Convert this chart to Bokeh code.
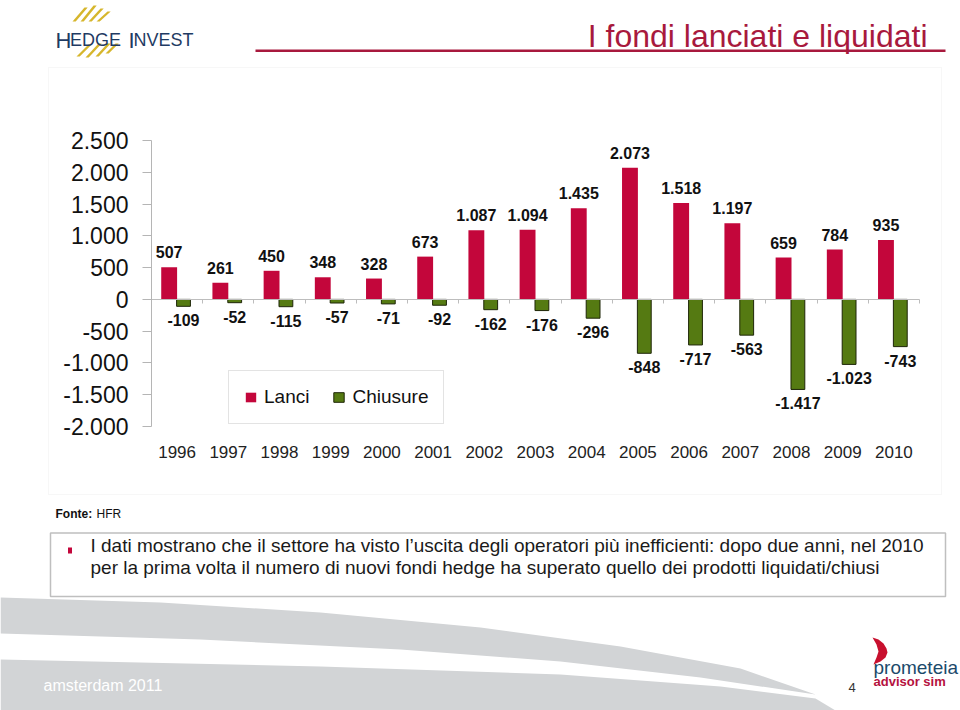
from bokeh.plotting import figure
from bokeh.models import (ColumnDataSource, Range1d, FixedTicker, LinearAxis,
                          CustomJSTickFormatter, Legend, LegendItem, Label,
                          BoxAnnotation, PolyAnnotation)
from bokeh.transform import dodge
from bokeh.embed import file_html
from bokeh.resources import INLINE
from bokeh.core.properties import value

# ---------------- data ----------------
years = [1996, 1997, 1998, 1999, 2000, 2001, 2002, 2003,
         2004, 2005, 2006, 2007, 2008, 2009, 2010]
lanci = [507, 261, 450, 348, 328, 673, 1087, 1094, 1435, 2073, 1518, 1197, 659, 784, 935]
chiusure = [-109, -52, -115, -57, -71, -92, -162, -176, -296, -848, -717, -563, -1417, -1023, -743]
y_ticks = [-2000, -1500, -1000, -500, 0, 500, 1000, 1500, 2000, 2500]
series_names = ["Lanci", "Chiusure"]

title_text = "I fondi lanciati e liquidati"
source_note = "HFR"
bullet_lines = [
    "I dati mostrano che il settore ha visto l\u2019uscita degli operatori pi\u00f9 inefficienti: dopo due anni, nel 2010",
    "per la prima volta il numero di nuovi fondi hedge ha superato quello dei prodotti liquidati/chiusi",
]


def it_fmt(v):
    return f"{v:,}".replace(",", ".")


RED = "#C3063B"
GREEN = "#557A12"
TITLE_RED = "#A8193D"
FONT = "Liberation Sans"

W, H = 960, 710
# chart plot area in page pixels
PX_L, PX_R, PX_T, PX_B = 151, 919, 140, 426
X_LO, X_HI = years[0] - 0.5, years[-1] + 0.5
Y_LO, Y_HI = y_ticks[0], y_ticks[-1]

xu = (X_HI - X_LO) / (PX_R - PX_L)      # years per pixel
yu = (Y_HI - Y_LO) / (PX_B - PX_T)      # values per pixel
yr_range = Range1d(X_LO - PX_L * xu, X_HI + (W - PX_R) * xu)
val_range = Range1d(Y_LO - (H - PX_B) * yu, Y_HI + PX_T * yu)

src = ColumnDataSource(dict(
    year=years, lanci=lanci, chiusure=chiusure,
    lanci_lbl=[it_fmt(v) for v in lanci],
    chiusure_lbl=[it_fmt(v) for v in chiusure],
))

p = figure(width=W, height=H, x_range=Range1d(0, W), y_range=Range1d(0, H),
           x_axis_location=None, y_axis_location=None,
           output_backend="svg", toolbar_location=None,
           min_border=0, min_border_left=0, min_border_right=0,
           min_border_top=0, min_border_bottom=0)
p.extra_x_ranges = {"yr": yr_range}
p.extra_y_ranges = {"val": val_range}
p.outline_line_color = None
p.background_fill_color = "white"
p.border_fill_color = "white"
p.xgrid.visible = False
p.ygrid.visible = False


def sx(X):
    return X


def sy(Y):
    return H - Y


def box(X0, Y0, X1, Y1, **kw):
    return BoxAnnotation(left=sx(X0), right=sx(X1), top=sy(Y0), bottom=sy(Y1),
                         left_units="screen", right_units="screen",
                         top_units="screen", bottom_units="screen", **kw)


def poly(pts, **kw):
    return PolyAnnotation(xs=[sx(a) for a, b in pts], ys=[sy(b) for a, b in pts],
                          xs_units="screen", ys_units="screen", line_color=None,
                          fill_alpha=1, **kw)


def label(X, Y, text, **kw):
    kw.setdefault("text_font", FONT)
    return Label(x=sx(X), y=sy(Y), x_units="screen", y_units="screen", text=text, **kw)


# ---------------- slide decorations (behind) ----------------
SWOOSH = "#D2D4D6"
upper = [(0, 597), (160, 602), (320, 612), (480, 627), (620, 646), (740, 668), (815, 694),
         (700, 677), (560, 661), (400, 649), (200, 639), (0, 633)]
lower = [(0, 659), (320, 666), (560, 674), (720, 686), (815, 698), (835, 710), (0, 710)]
p.add_layout(poly(upper, fill_color=SWOOSH, level="underlay"))
p.add_layout(poly(lower, fill_color=SWOOSH, level="underlay"))

# chart box
p.add_layout(box(48, 67, 941, 494, fill_alpha=0, line_color="#E3E3E3", line_width=1,
                 level="underlay"))

# ---------------- chart ----------------
r_red = p.vbar(x=dodge("year", -0.155), top="lanci", bottom=0, width=0.31,
               source=src, fill_color=RED, line_color=None,
               x_range_name="yr", y_range_name="val")
r_green = p.vbar(x=dodge("year", 0.125), top=0, bottom="chiusure", width=0.27,
                 source=src, fill_color=GREEN, line_color="#1E2608", line_width=1,
                 x_range_name="yr", y_range_name="val")

p.text(x=dodge("year", -0.155), y="lanci", text="lanci_lbl", source=src,
       text_align="center", text_baseline="bottom", y_offset=-9,
       text_font=value(FONT), text_font_style="bold", text_font_size="16px",
       text_color="#111111", x_range_name="yr", y_range_name="val")
p.text(x=dodge("year", 0.125), y="chiusure", text="chiusure_lbl", source=src,
       text_align="center", text_baseline="top", y_offset=8,
       text_font=value(FONT), text_font_style="bold", text_font_size="16px",
       text_color="#111111", x_range_name="yr", y_range_name="val")

# value axis
yax = LinearAxis(x_range_name="yr", y_range_name="val", fixed_location=X_LO,
                 bounds=(Y_LO, Y_HI), ticker=FixedTicker(ticks=y_ticks),
                 formatter=CustomJSTickFormatter(
                     code=r"return tick.toString().replace(/\B(?=(\d{3})+(?!\d))/g, '.');"),
                 major_label_text_font=FONT, major_label_text_font_size="23px",
                 major_label_text_color="#111111", axis_line_color="#B5B5B5",
                 major_tick_line_color="#B5B5B5", major_tick_out=9, major_tick_in=0,
                 minor_tick_line_color=None, major_label_standoff=14)
p.add_layout(yax, "left")

# zero line with category separators
boundaries = [y + 0.5 for y in years]
zax = LinearAxis(x_range_name="yr", y_range_name="val", fixed_location=0,
                 bounds=(X_LO, X_HI), ticker=FixedTicker(ticks=boundaries),
                 formatter=CustomJSTickFormatter(code="return '';"),
                 axis_line_color="#BDBDBD", major_tick_line_color="#BDBDBD",
                 major_tick_out=4, major_tick_in=0, minor_tick_line_color=None)
p.add_layout(zax, "below")

# year labels at the bottom
xax = LinearAxis(x_range_name="yr", y_range_name="val", fixed_location=Y_LO,
                 bounds=(X_LO, X_HI), ticker=FixedTicker(ticks=years),
                 formatter=CustomJSTickFormatter(code="return tick.toFixed(0);"),
                 axis_line_color=None, major_tick_line_color=None,
                 minor_tick_line_color=None, major_label_text_font=FONT,
                 major_label_text_font_size="17px", major_label_text_color="#222222",
                 major_label_standoff=13)
p.add_layout(xax, "below")

legend = Legend(items=[LegendItem(label=series_names[0], renderers=[r_red]),
                       LegendItem(label=series_names[1], renderers=[r_green])],
                location=(228, H - 424), orientation="horizontal",
                border_line_color="#C8C8C8", border_line_width=1,
                background_fill_color="white", background_fill_alpha=1,
                padding=15, margin=0, spacing=23, label_standoff=7,
                glyph_width=13, glyph_height=12,
                label_text_font=FONT, label_text_font_size="19px", label_text_color="#111111")
p.add_layout(legend)

# ---------------- header ----------------
p.add_layout(label(927, 35.7, title_text, text_align="right", text_baseline="alphabetic",
                   text_font_size="32px", text_color=TITLE_RED))
p.add_layout(box(255, 49, 945, 51.5, fill_color=TITLE_RED, fill_alpha=1, line_color=None))

# Hedge Invest logo
GOLD = "#D6B62C"
strokes_up = [((72, 21), (84, 7)), ((80, 21), (93, 5)), ((88, 21), (100, 8)), ((96, 21), (107, 11))]
strokes_dn = [((76, 56), (88, 44)), ((85, 57), (98, 43)), ((95, 56), (107, 43)), ((105, 53), (115, 43))]
for (x0, y0), (x1, y1) in strokes_up + strokes_dn:
    w = 3.2
    p.add_layout(poly([(x0, y0), (x0 + w, y0), (x1 + w, y1), (x1, y1)], fill_color=GOLD))
NAVY = "#1F3B63"
logo_parts = [("H", 55, 22), ("EDGE", 69.5, 18), ("I", 128, 22), ("NVEST", 133, 18)]
for t, X, fs in logo_parts:
    p.add_layout(label(X, 39.5, t, text_align="left", text_baseline="alphabetic",
                       text_font_size=f"{fs}px", text_color=NAVY))

# ---------------- footnote & text box ----------------
p.add_layout(label(55, 520.5, "Fonte:", text_font_style="bold", text_font_size="12px",
                   text_color="#111111"))
p.add_layout(label(96, 520.5, source_note, text_font_size="12px", text_color="#111111"))

p.add_layout(box(50, 532.5, 945, 596, fill_color="white", fill_alpha=1,
                 line_color="#2B2B2B", line_width=1.5))
p.add_layout(box(67.5, 547, 71.5, 553, fill_color=RED, fill_alpha=1, line_color=None))
for i, line in enumerate(bullet_lines):
    p.add_layout(label(90, 555.5 + 21.5 * i, line, text_font_size="19px", text_color="#1A1A1A"))

# ---------------- footer ----------------
p.add_layout(label(43, 693, "amsterdam 2011", text_font_size="16px", text_color="white"))
p.add_layout(label(848, 691, "4", text_font_size="13px", text_color="#333333"))
chev = [(872, 637), (878, 639), (883, 643), (886, 648), (887, 652), (885, 657), (880, 661),
        (873, 664), (876, 657), (878, 651), (876, 644)]
p.add_layout(poly(chev, fill_color="#C8102E"))
p.add_layout(label(873, 677, "prometeia", text_font_size="19px", text_color="#1C4A6B"))
p.add_layout(label(873, 688.5, "advisor sim", text_font_style="bold", text_font_size="13px",
                   text_color="#B5123E"))

open("out.html", "w").write(file_html(p, INLINE))
